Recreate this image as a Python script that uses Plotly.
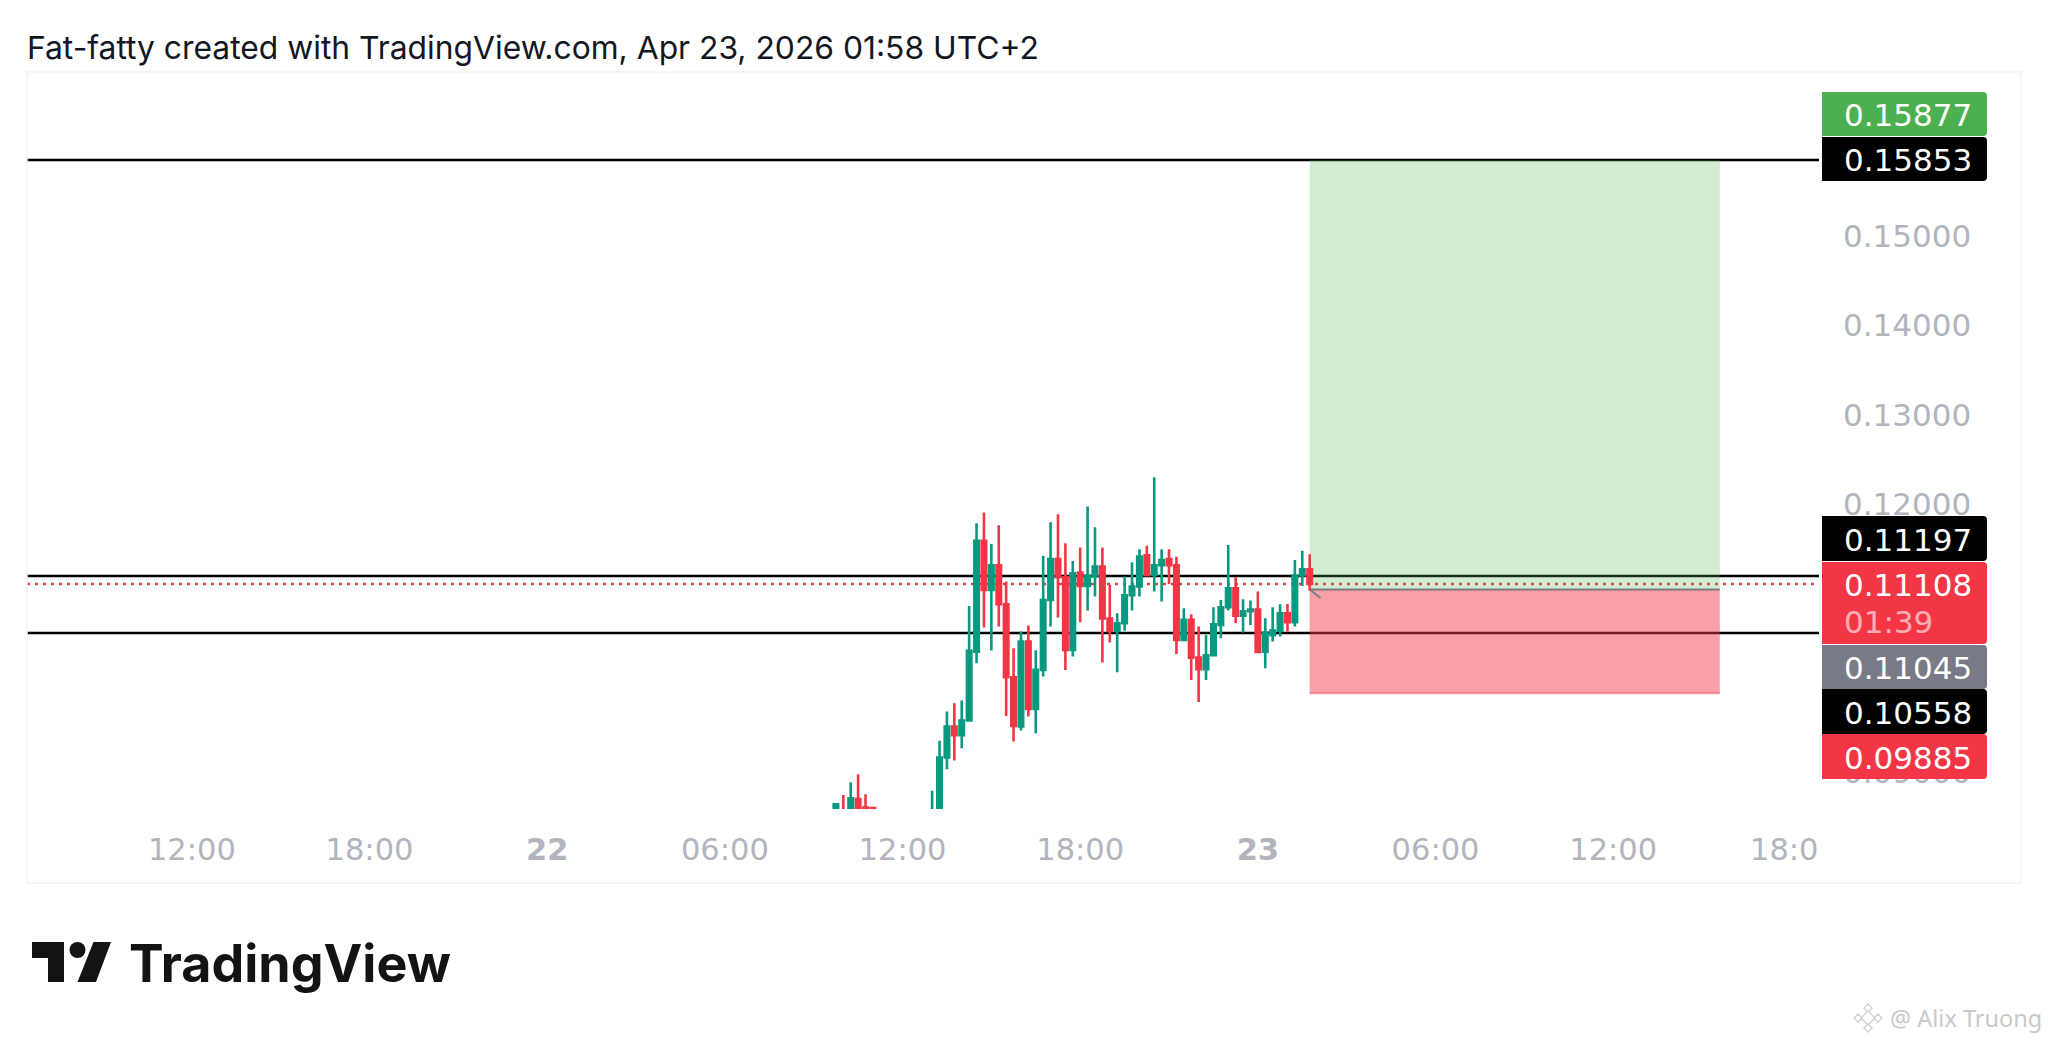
import pandas as pd
import plotly.graph_objects as go

FIRST_BAR = "2026-04-22 09:45"
N = None
opens = [.0855, .0855, .0855, .08698, .08605, .0860, N, N, N, N, N, N, N,
         .0845, .0850, .09164, .09511, .09414, .09578, .1035, .11589, .1104, .11316, .1088, .10063,
         .09511, .10462, .09709, .10145, .10928, .11387, .11182, .10369, .11234, .11085, .1119, .11301,
         .1072, .10582, .10667, .10981, .11078, .11428, .11208, .11316, .11387, .11316, .10481, .10705,
         .10283, .10153, .10309, .10649, .10846, .11059, .10753, .10802, .1082, .1035, .10533, .10585,
         .10779, .10678, .11201, .11272]
highs = [.08642, .08746, .08888, .08978, .08754, .0860, N, N, N, N, N, N, N,
         .08791, .09351, .09679, .09772, .09802, .10861, .11786, .11906, .11555, .11764, .11134, .10388,
         .10574, .10641, .10365, .11424, .11797, .11887, .11562, .11365, .11514, .11973, .11742, .11514,
         .11096, .10779, .1119, .1135, .11495, .11536, .12301, .11495, .11495, .11413, .10835, .10768,
         .1063, .10537, .10846, .10928, .11544, .11182, .10936, .10921, .11022, .10723, .10846, .1088,
         .10884, .11376, .1148, .11439]
lows = [.0855, .0850, .0850, .0850, .0850, .0850, N, N, N, N, N, N, N,
        .0840, .0845, .09034, .09131, .09269, .09578, .1022, .10619, .10361, .1063, .0963, .09343,
        .09466, .09623, .09436, .1007, .1063, .10731, .10145, .10294, .10678, .10809, .10966, .10227,
        .10451, .10119, .10582, .10809, .10966, .1119, .11022, .1091, .11107, .10324, .10481, .10033,
        .09787, .10033, .10309, .10499, .10809, .10667, .10563, .10649, .1034, .10164, .10462, .10518,
        .10574, .1063, .11085, .11033]
closes = [.08642, .0854, .08709, .0852, .0852, .0852, N, N, N, N, N, N, N,
          .0855, .09164, .09511, .09414, .09578, .10358, .11589, .1104, .11316, .1088, .10063, .09518,
          .10462, .09709, .10145, .10928, .11387, .11182, .10369, .11227, .11085, .11201, .11301, .1072,
          .10582, .10667, .10981, .11078, .11413, .11208, .11316, .11376, .11316, .10481, .10705, .10283,
          .10153, .10309, .10656, .10846, .11059, .10753, .10802, .1082, .10347, .10563, .10585, .10779,
          .10678, .11201, .11272, .11108]

y_ticks = [0.15, 0.14, 0.13, 0.12, 0.09]
x_tick_times = ["2026-04-21 12:00", "2026-04-21 18:00", "2026-04-22 00:00", "2026-04-22 06:00",
                "2026-04-22 12:00", "2026-04-22 18:00", "2026-04-23 00:00", "2026-04-23 06:00",
                "2026-04-23 12:00"]
x_tick_text = ["12:00", "18:00", "<b>22</b>", "06:00", "12:00", "18:00", "<b>23</b>", "06:00", "12:00"]

target_price = 0.15853
upper_level = 0.11197
last_price = 0.11108
entry_price = 0.11045
lower_level = 0.10558
stop_price = 0.09885

TITLE = "Fat-fatty created with TradingView.com, Apr 23, 2026 01:58 UTC+2"

# pane geometry in page pixels
L, R, T, B = 27, 1819, 72, 809
def px(x): return (x - L) / (R - L)
def py(y): return (B - y) / (B - T)

UP, DOWN = "#089981", "#F23645"
times = pd.date_range(FIRST_BAR, periods=len(opens), freq="15min")

fig = go.Figure(go.Candlestick(
    x=times, open=opens, high=highs, low=lows, close=closes,
    increasing=dict(line=dict(color=UP, width=2.6), fillcolor=UP),
    decreasing=dict(line=dict(color=DOWN, width=2.6), fillcolor=DOWN),
    whiskerwidth=0, hoverinfo="skip", showlegend=False,
))

RX0, RX1 = "2026-04-23 01:45", "2026-04-23 15:36"
shapes = [
    dict(type="rect", xref="x", yref="y", x0=RX0, x1=RX1, y0=entry_price, y1=target_price,
         fillcolor="rgba(76,175,80,0.25)", line_width=0, layer="below"),
    dict(type="rect", xref="x", yref="y", x0=RX0, x1=RX1, y0=stop_price, y1=entry_price,
         fillcolor="rgba(242,54,69,0.48)", line_width=0, layer="below"),
    dict(type="line", xref="x", yref="y", x0=RX0, x1=RX1, y0=stop_price, y1=stop_price,
         line=dict(color="rgba(242,54,69,0.45)", width=2), layer="below"),
]
for lv in (target_price, upper_level, lower_level):
    shapes.append(dict(type="line", xref="paper", yref="y", x0=0, x1=1, y0=lv, y1=lv,
                       line=dict(color="#000000", width=2.5), layer="below"))
shapes.append(dict(type="line", xref="paper", yref="y", x0=0, x1=1, y0=last_price, y1=last_price,
                   line=dict(color=DOWN, width=2.5, dash="3px,5px"), layer="below"))
shapes.append(dict(type="line", xref="x", yref="y", x0=RX0, x1=RX1, y0=entry_price, y1=entry_price,
                   line=dict(color="#787b86", width=2), layer="below"))
shapes.append(dict(type="line", xref="x", yref="y", x0=RX0, x1="2026-04-23 02:07",
                   y0=entry_price, y1=entry_price - 0.00095,
                   line=dict(color="#787b86", width=2), layer="below"))
# outer frame
shapes.append(dict(type="rect", xref="paper", yref="paper", x0=px(27), x1=px(2021), y0=py(883), y1=py(72),
                   line=dict(color="#f0f3fa", width=1.5), fillcolor="rgba(0,0,0,0)", layer="below"))

def label_path(x0, x1, y0, y1, r=4):
    return (f"M {px(x0)} {py(y0)} L {px(x1 - r)} {py(y0)} Q {px(x1)} {py(y0)} {px(x1)} {py(y0 + r)} "
            f"L {px(x1)} {py(y1 - r)} Q {px(x1)} {py(y1)} {px(x1 - r)} {py(y1)} L {px(x0)} {py(y1)} Z")

labels = [
    ("0.15877", "#4caf50", 92, 136, 115),
    ("0.15853", "#000000", 137, 181, 160),
    ("0.11197", "#000000", 516, 561, 539.5),
    ("0.11108", DOWN, 562, 644, 585),
    ("0.11045", "#787b86", 645, 689, 668),
    ("0.10558", "#000000", 689, 734, 712.5),
    ("0.09885", DOWN, 734, 779, 757.5),
]
NUM_FONT = "DejaVu Sans"
FONT = "Inter"
annotations = []
for text, color, y0, y1, yc in labels:
    shapes.append(dict(type="path", xref="paper", yref="paper", path=label_path(1822, 1987, y0, y1),
                       fillcolor=color, line_width=0, layer="above"))
    annotations.append(dict(xref="paper", yref="paper", x=px(1842), y=py(yc), text=text, showarrow=False,
                            xanchor="left", yanchor="middle", font=dict(family=NUM_FONT, size=31, color="#ffffff")))
annotations.append(dict(xref="paper", yref="paper", x=px(1842), y=py(622), text="01:39", showarrow=False,
                        xanchor="left", yanchor="middle",
                        font=dict(family=NUM_FONT, size=31, color="rgba(255,255,255,0.62)")))
annotations.append(dict(xref="paper", yref="paper", x=px(1748), y=py(849), text="18:0", showarrow=False,
                        xanchor="left", yanchor="middle", font=dict(family=NUM_FONT, size=30.5, color="#b2b5be")))
annotations.append(dict(xref="paper", yref="paper", x=px(24.5), y=py(48), text=TITLE, showarrow=False,
                        xanchor="left", yanchor="middle", font=dict(family=FONT, size=31.8, color="#131722")))
annotations.append(dict(xref="paper", yref="paper", x=px(127), y=py(963), text="TradingView", showarrow=False,
                        xanchor="left", yanchor="middle", font=dict(family=FONT, size=52, color="#131313", weight=700)))
annotations.append(dict(xref="paper", yref="paper", x=px(1888), y=py(1018), text="@ Alix Truong", showarrow=False,
                        xanchor="left", yanchor="middle", font=dict(family="Noto Sans", size=23.5, color="#c9c9c9")))

def poly(points):
    return "M " + " L ".join(f"{px(x)} {py(y)}" for x, y in points) + " Z"

LOGO = "#131313"
shapes.append(dict(type="path", xref="paper", yref="paper", line_width=0, fillcolor=LOGO, layer="above",
                   path=poly([(32, 942), (64, 942), (64, 982), (48, 982), (48, 958), (32, 958)])))
shapes.append(dict(type="path", xref="paper", yref="paper", line_width=0, fillcolor=LOGO, layer="above",
                   path=poly([(93.5, 942), (111, 942), (96, 982), (77.5, 982)])))
shapes.append(dict(type="circle", xref="paper", yref="paper", x0=px(69.5), x1=px(85.5), y0=py(958), y1=py(942),
                   fillcolor=LOGO, line_width=0, layer="above"))
# watermark diamond
for cx, cy, r in ((1868, 1018, 7), (1868, 1008, 4), (1868, 1028, 4), (1858, 1018, 4), (1878, 1018, 4)):
    shapes.append(dict(type="path", xref="paper", yref="paper", line=dict(color="#d4d4d4", width=1.5),
                       fillcolor="rgba(0,0,0,0)", layer="above",
                       path=poly([(cx, cy - r), (cx + r, cy), (cx, cy + r), (cx - r, cy)])))

fig.update_layout(
    width=2048, height=1043, margin=dict(l=L, r=2048 - R, t=T, b=1043 - B, autoexpand=False),
    paper_bgcolor="#ffffff", plot_bgcolor="#ffffff", showlegend=False, hovermode=False,
    boxgap=0.4, boxgroupgap=0, shapes=shapes, annotations=annotations,
    xaxis=dict(type="date", range=["2026-04-21 06:26", "2026-04-23 18:57"], rangeslider=dict(visible=False),
               tickmode="array", tickvals=x_tick_times, ticktext=x_tick_text, showgrid=False, zeroline=False,
               showline=False, ticks="", ticklabelstandoff=19, tickangle=0,
               tickfont=dict(family=NUM_FONT, size=30.5, color="#b2b5be")),
    yaxis=dict(side="right", range=[0.08588, 0.16838], tickmode="array", tickvals=y_ticks,
               ticktext=[f"{v:.5f}" for v in y_ticks], showgrid=False, zeroline=False, showline=False, ticks="",
               ticklabelstandoff=23, tickfont=dict(family=NUM_FONT, size=31, color="#b2b5be")),
)

fig.write_html("out.html", config=dict(displayModeBar=False),
               post_script="document.body.style.margin='0';document.documentElement.style.overflow='hidden';")
